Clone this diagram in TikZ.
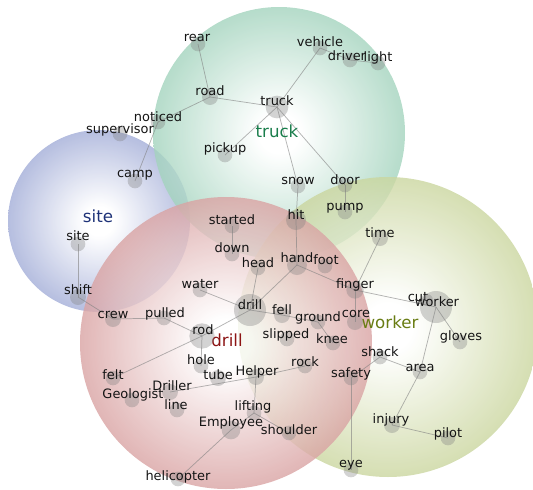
\documentclass[tikz,border=0pt]{standalone}
\usepackage{fontspec}
\setmainfont{DejaVu Sans}
\pgfdeclarelayer{clusters}
\pgfdeclarelayer{links}
\pgfsetlayers{clusters,links,main}

% cluster colours
\definecolor{gedge}{RGB}{75,165,125}
\definecolor{gmid}{RGB}{150,205,180}
\definecolor{bedge}{RGB}{80,95,162}
\definecolor{bmid}{RGB}{150,162,210}
\definecolor{redge}{RGB}{178,88,88}
\definecolor{rmid}{RGB}{212,150,150}
\definecolor{oedge}{RGB}{142,165,78}
\definecolor{omid}{RGB}{195,208,145}
\definecolor{gtext}{RGB}{25,125,75}
\definecolor{btext}{RGB}{30,50,120}
\definecolor{rtext}{RGB}{140,20,20}
\definecolor{otext}{RGB}{105,125,20}

\pgfdeclareradialshading{truckshade}{\pgfpoint{0bp}{0bp}}{color(0bp)=(white); color(4bp)=(white); color(28bp)=(gmid); color(50bp)=(gedge)}
\pgfdeclareradialshading{siteshade}{\pgfpoint{0bp}{0bp}}{color(0bp)=(white); color(4bp)=(white); color(28bp)=(bmid); color(50bp)=(bedge)}
\pgfdeclareradialshading{drillshade}{\pgfpoint{0bp}{0bp}}{color(0bp)=(white); color(4bp)=(white); color(28bp)=(rmid); color(50bp)=(redge)}
\pgfdeclareradialshading{workershade}{\pgfpoint{0bp}{0bp}}{color(0bp)=(white); color(4bp)=(white); color(28bp)=(omid); color(50bp)=(oedge)}

\tikzset{
  cluster/.style={fill opacity=0.8, draw=none},
  wdot/.style={circle, fill=gray, fill opacity=0.35, draw=none, inner sep=0pt, minimum size=#1},
  wdot/.default=11,
  wlbl/.style={font=\fontsize{9.7}{11}\selectfont, text=black!92, inner sep=0pt},
  clbl/.style={font=\fontsize{12.5}{14}\selectfont, inner sep=0pt},
  link/.style={draw=gray, line width=0.55pt, opacity=0.6},
}

% \word{name}{dot x}{dot y}{label x}{label y}{text}{dot size}
\newcommand{\word}[7]{%
  \node[wdot=#7] (#1) at (#2,#3) {};
  \node[wlbl] (#1-t) at (#4,#5) {#6};
}

\begin{document}
\begin{tikzpicture}[x=0.75pt,y=-0.75pt]
\useasboundingbox (0,0) rectangle (533,490);

\begin{pgfonlayer}{clusters}
  \shade[cluster, shading=siteshade] (99,221) circle (91);
  \shade[cluster, shading=truckshade] (279,133) circle (126);
  \shade[cluster, shading=workershade] (388,327) circle (150);
  \shade[cluster, shading=drillshade] (226,343) circle (146);
\end{pgfonlayer}

% cluster titles
\node[clbl, text=gtext] (c-truck) at (277,131) {truck};
\node[clbl, text=btext] (c-site) at (98,216) {site};
\node[clbl, text=rtext] (c-drill) at (227,340) {drill};
\node[clbl, text=otext] (c-worker) at (390,322) {worker};

% words
\word{rear}{198}{44}{197}{38}{rear}{11}
\word{road}{210}{97}{210}{91}{road}{12}
\word{noticed}{158}{122}{158}{117}{noticed}{11}
\word{supervisor}{120}{134}{120}{130}{supervisor}{11}
\word{camp}{135}{181}{135}{175}{camp}{11}
\word{truck}{277}{107}{277}{101}{truck}{17}
\word{vehicle}{320}{48}{320}{42}{vehicle}{11}
\word{driver}{350}{60}{347}{56}{driver}{11}
\word{light}{378}{63}{378}{58}{light}{11}
\word{pickup}{225}{155}{225}{149}{pickup}{11}
\word{snow}{298}{186}{298}{181}{snow}{11}
\word{door}{345}{185}{345}{180}{door}{11}
\word{pump}{345}{212}{345}{208}{pump}{11}
\word{hit}{296}{220}{296}{215}{hit}{15}
\word{time}{380}{238}{380}{233}{time}{12}
\word{site}{78}{244}{78}{236}{site}{11}
\word{shift}{78}{297}{78}{290}{shift}{12}
\word{started}{232}{226}{232}{220}{started}{11}
\word{down}{232}{254}{232}{248}{down}{11}
\word{head}{258}{268}{258}{263}{head}{11}
\word{hand}{297}{265}{297}{258}{hand}{15}
\word{foot}{325}{266}{326}{260}{foot}{11}
\word{water}{200}{290}{200}{284}{water}{11}
\word{drill}{250}{310}{250}{305}{drill}{24}
\word{finger}{355}{290}{355}{285}{finger}{13}
\word{cut}{427}{300}{418}{297}{cut}{9}
\word{worker}{436}{307}{437}{302}{worker}{24}
\word{fell}{282}{315}{282}{310}{fell}{12}
\word{ground}{318}{322}{318}{318}{ground}{11}
\word{core}{355}{322}{356}{314}{core}{12}
\word{crew}{113}{319}{113}{315}{crew}{12}
\word{pulled}{164}{318}{165}{314}{pulled}{11}
\word{rod}{202}{336}{203}{330}{rod}{19}
\word{slipped}{287}{339}{286}{335}{slipped}{11}
\word{knee}{333}{343}{332}{339}{knee}{11}
\word{gloves}{460}{342}{461}{337}{gloves}{11}
\word{shack}{380}{357}{380}{352}{shack}{11}
\word{area}{420}{372}{420}{368}{area}{11}
\word{hole}{201}{366}{201}{360}{hole}{11}
\word{rock}{305}{366}{305}{362}{rock}{11}
\word{safety}{351}{378}{351}{374}{safety}{11}
\word{tube}{218}{378}{218}{375}{tube}{12}
\word{Helper}{256}{377}{257}{372}{Helper}{12}
\word{felt}{113}{378}{113}{375}{felt}{11}
\word{Driller}{170}{392}{172}{386}{Driller}{12}
\word{Geologist}{132}{400}{133}{395}{Geologist}{11}
\word{line}{177}{410}{176}{405}{line}{11}
\word{lifting}{254}{413}{253}{407}{lifting}{11}
\word{Employee}{231}{430}{231}{423}{Employee}{14}
\word{shoulder}{289}{433}{289}{430}{shoulder}{11}
\word{injury}{392}{425}{391}{420}{injury}{12}
\word{pilot}{448}{438}{448}{434}{pilot}{11}
\word{eye}{351}{470}{351}{465}{eye}{11}
\word{helicopter}{178}{479}{178}{477}{helicopter}{11}

% co-occurrence links
\begin{pgfonlayer}{links}
  \foreach \a/\b in {rear/road, road/truck, road/noticed, noticed/camp,
      truck/pickup, truck/vehicle, vehicle/driver, driver/light,
      truck/snow, truck/door, snow/hit, door/pump, hit/hand,
      started/down, head/drill, hand/drill, hand/finger, water/drill,
      drill/fell, fell/ground, ground/knee, drill/rod, rod/felt,
      rod/pulled, pulled/crew, crew/shift, shift/site, rod/hole,
      finger/time, finger/worker, finger/core, worker/gloves,
      worker/area, area/shack, shack/safety, area/injury, injury/pilot,
      safety/eye, Driller/Helper, Helper/rock, Helper/lifting,
      lifting/Employee, lifting/shoulder, Employee/helicopter}
    \draw[link] (\a.center) -- (\b.center);
\end{pgfonlayer}
\end{tikzpicture}
\end{document}
